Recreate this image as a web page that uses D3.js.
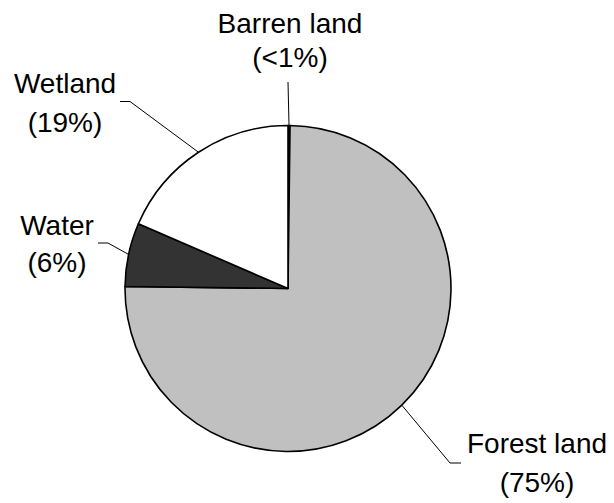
<!DOCTYPE html>
<html>
<head>
<meta charset="utf-8">
<script src="https://cdn.jsdelivr.net/npm/d3@7"></script>
<style>
  html, body { margin: 0; padding: 0; background: #fff; }
  svg { display: block; }
  text { font-family: "Liberation Sans", Arial, sans-serif; font-size: 28px; fill: #000; }
</style>
</head>
<body>
<svg id="chart" width="614" height="503"></svg>
<script>
// Data (clockwise from 12 o'clock)
const categories = ["Barren land", "Forest land", "Water", "Wetland"];
const shares = [0.2, 75.0, 6.3, 18.5];
const percentLabels = ["(<1%)", "(75%)", "(6%)", "(19%)"];
const sliceColors = ["#000000", "#c0c0c0", "#333333", "#ffffff"];

// Layout for the labels (positions only)
const labelLayout = [
  { x: 290, y1: 32.5, y2: 67, elbow: [288, 82], end: [288, 82] },
  { x: 537, y1: 453, y2: 492, elbow: [450, 463], end: [461, 463] },
  { x: 57, y1: 235, y2: 271.5, elbow: [108, 243], end: [98, 243] },
  { x: 65, y1: 93, y2: 131.5, elbow: [130, 101.5], end: [120, 101.5] }
];

const cx = 288, cy = 288.5, radius = 163;
const svg = d3.select("#chart");
const g = svg.append("g").attr("transform", `translate(${cx},${cy})`);

const pie = d3.pie().sort(null).value(d => d).startAngle(0).endAngle(2 * Math.PI);
const arcs = pie(shares);
const arc = d3.arc().innerRadius(0).outerRadius(radius);

g.selectAll("path.slice")
  .data(arcs)
  .join("path")
  .attr("class", "slice")
  .attr("d", arc)
  .attr("fill", (d, i) => sliceColors[i])
  .attr("stroke", "#000")
  .attr("stroke-width", 1.6)
  .attr("stroke-linejoin", "round");

// Leader lines from the slice mid-angle on the rim
arcs.forEach((d, i) => {
  const a = (d.startAngle + d.endAngle) / 2;
  const px = cx + radius * Math.sin(a);
  const py = cy - radius * Math.cos(a);
  const L = labelLayout[i];
  svg.append("polyline")
    .attr("points", [[px, py], L.elbow, L.end].map(p => p.join(",")).join(" "))
    .attr("fill", "none")
    .attr("stroke", "#000")
    .attr("stroke-width", 1);
  svg.append("text")
    .attr("x", L.x).attr("y", L.y1)
    .attr("text-anchor", "middle")
    .text(categories[i]);
  svg.append("text")
    .attr("x", L.x).attr("y", L.y2)
    .attr("text-anchor", "middle")
    .text(percentLabels[i]);
});
</script>
</body>
</html>
